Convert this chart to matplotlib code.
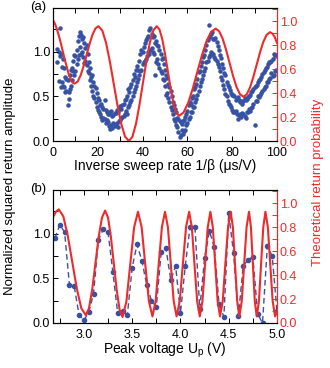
import matplotlib.pyplot as plt
from matplotlib.ticker import MultipleLocator

plt.rcParams['font.family'] = ['Liberation Sans', 'DejaVu Sans']

BLUE = '#3752a3'
RED = '#ee2a2a'

# (a) measured return amplitude vs inverse sweep rate, four repeated sweeps
SWEEP_INT = [2, 3, 4, 5, 6, 7, 8, 9, 10, 11, 12, 13, 14, 15, 16, 17, 18, 19, 20, 21,
             22, 23, 24, 25, 26, 27, 28, 29, 30, 31, 32, 33, 34, 35, 36, 37, 38, 39, 40, 41,
             42, 43, 44, 45, 46, 47, 48, 49, 50, 51, 52, 53, 54, 55, 56, 57, 58, 59, 60, 61,
             62, 63, 64, 65, 66, 67, 68, 69, 70, 71, 72, 73, 74, 75, 76, 77, 78, 79, 80, 81,
             82, 83, 84, 85, 86, 87, 88, 89, 90, 91, 92, 93, 94, 95, 96, 97, 98, 99]
SWEEP_HALF = [2.5, 3.5, 4.5, 5.5, 6.5, 7.5, 8.5, 9.5, 10.5, 11.5, 12.5, 13.5, 14.5, 15.5,
              16.5, 17.5, 18.5, 19.5, 20.5, 21.5, 22.5, 23.5, 24.5, 25.5, 26.5, 27.5, 28.5,
              29.5, 30.5, 31.5, 32.5, 33.5, 34.5, 35.5, 36.5, 37.5, 38.5, 39.5, 40.5, 41.5,
              42.5, 43.5, 44.5, 45.5, 46.5, 47.5, 48.5, 49.5, 50.5, 51.5, 52.5, 53.5, 54.5,
              55.5, 56.5, 57.5, 58.5, 59.5, 60.5, 61.5, 62.5, 63.5, 64.5, 65.5, 66.5, 67.5,
              68.5, 69.5, 70.5, 71.5, 72.5, 73.5, 74.5, 75.5, 76.5, 77.5, 78.5, 79.5, 80.5,
              81.5, 82.5, 83.5, 84.5, 85.5, 86.5, 87.5, 88.5, 89.5, 90.5, 91.5, 92.5, 93.5,
              94.5, 95.5, 96.5, 97.5, 98.5, 99.5]
RUN1 = [1.03, 1.27, 0.83, 0.82, 0.56, 0.47, 0.80, 0.78, 0.79, 1.12,
        1.05, 1.14, 0.87, 1.08, 0.76, 0.72, 0.50, 0.59, 0.35, 0.40,
        0.23, 0.46, 0.23, 0.17, 0.34, 0.20, 0.31, 0.16, 0.39, 0.27,
        0.46, 0.30, 0.55, 0.46, 0.75, 0.62, 0.80, 0.97, 0.86, 1.10,
        0.95, 1.24, 1.04, 1.18, 0.88, 1.07, 0.79, 0.93, 0.62, 0.71,
        0.44, 0.50, 0.25, 0.32, 0.10, 0.21, 0.08, 0.27, 0.20, 0.44,
        0.33, 0.58, 0.47, 0.77, 0.66, 0.94, 0.82, 1.13, 0.96, 1.22,
        0.94, 1.11, 0.83, 0.93, 0.63, 0.74, 0.45, 0.57, 0.35, 0.50,
        0.30, 0.46, 0.27, 0.45, 0.26, 0.49, 0.34, 0.56, 0.18, 0.63,
        0.49, 0.72, 0.58, 0.82, 0.66, 0.89, 0.73, 0.95]
RUN2 = [0.88, 0.95, 0.66, 0.60, 0.70, 0.55, 0.62, 0.90, 0.95, 0.92,
        1.22, 1.00, 1.10, 0.85, 0.88, 0.62, 0.66, 0.44, 0.48, 0.30,
        0.38, 0.25, 0.32, 0.30, 0.18, 0.29, 0.19, 0.33, 0.24, 0.40,
        0.30, 0.50, 0.40, 0.64, 0.55, 0.80, 0.70, 0.78, 1.00, 0.90,
        1.15, 0.98, 1.20, 0.98, 1.12, 0.86, 0.98, 0.70, 0.80, 0.54,
        0.60, 0.35, 0.40, 0.18, 0.25, 0.07, 0.22, 0.12, 0.34, 0.27,
        0.48, 0.38, 0.64, 0.56, 0.84, 0.74, 1.02, 0.90, 1.16, 0.98,
        1.14, 0.90, 1.02, 0.72, 0.82, 0.53, 0.63, 0.40, 0.52, 0.33,
        0.48, 0.29, 0.45, 0.30, 0.46, 0.32, 0.52, 0.38, 0.60, 0.45,
        0.68, 0.54, 0.77, 0.62, 0.86, 0.71, 0.92, 0.78]
RUN3 = [0.67, 0.98, 0.62, 0.72, 0.40, 0.58, 0.68, 0.96, 0.86, 1.18,
        0.98, 1.16, 0.90, 0.98, 0.68, 0.56, 0.62, 0.38, 0.46, 0.27,
        0.36, 0.20, 0.30, 0.14, 0.28, 0.17, 0.35, 0.22, 0.36, 0.28,
        0.34, 0.58, 0.44, 0.68, 0.58, 0.84, 0.74, 1.02, 0.88, 1.13,
        1.00, 1.27, 1.00, 0.74, 1.08, 0.82, 0.92, 0.68, 0.52, 0.64,
        0.38, 0.30, 0.22, 0.26, 0.05, 0.12, 0.24, 0.30, 0.40, 0.42,
        0.50, 0.44, 0.70, 0.62, 0.88, 0.78, 1.08, 1.30, 1.00, 1.14,
        0.92, 1.06, 0.78, 0.86, 0.58, 0.66, 0.42, 0.54, 0.33, 0.46,
        0.25, 0.44, 0.31, 0.28, 0.47, 0.36, 0.55, 0.42, 0.62, 0.50,
        0.70, 0.56, 0.80, 0.66, 0.88, 0.76, 0.97, 0.80]
RUN4 = [1.00, 0.60, 0.92, 0.55, 0.68, 0.74, 0.82, 0.74, 1.02, 0.96,
        1.19, 0.94, 1.04, 0.78, 0.82, 0.74, 0.48, 0.54, 0.33, 0.42,
        0.26, 0.35, 0.21, 0.33, 0.15, 0.31, 0.20, 0.36, 0.26, 0.42,
        0.47, 0.38, 0.60, 0.50, 0.72, 0.66, 0.90, 0.80, 1.05, 0.92,
        1.18, 1.02, 1.16, 1.10, 0.92, 1.02, 0.76, 0.86, 0.74, 0.48,
        0.56, 0.44, 0.36, 0.16, 0.22, 0.19, 0.11, 0.18, 0.25, 0.32,
        0.38, 0.60, 0.52, 0.78, 0.70, 0.96, 0.88, 0.94, 1.20, 0.98,
        1.15, 0.86, 0.96, 0.68, 0.76, 0.50, 0.60, 0.38, 0.52, 0.34,
        0.49, 0.30, 0.42, 0.48, 0.32, 0.50, 0.37, 0.58, 0.45, 0.66,
        0.52, 0.75, 0.61, 0.83, 0.70, 0.90, 0.74, 0.96]

# (a) theory curve
THEORY_A_X = [0, 1, 2, 3, 4, 5, 6, 7, 8, 9, 9.7, 11.03, 12.35, 13.68, 15.0, 16.33,
              17.65, 18.98, 20.3, 22.0, 23.7, 25.4, 27.1, 28.8, 30.5, 32.2, 33.9,
              35.45, 37.0, 38.55, 40.1, 41.65, 43.2, 44.75, 46.3, 47.54, 48.78, 50.01,
              51.25, 52.49, 53.73, 54.96, 56.2, 58.25, 60.3, 62.35, 64.4, 66.45, 68.5,
              70.55, 72.6, 74.15, 75.7, 77.25, 78.8, 80.35, 81.9, 83.45, 85.0, 86.49,
              87.98, 89.46, 90.95, 92.44, 93.93, 95.41, 96.9, 98.0, 99.0, 100]
THEORY_A_Y = [1.01, 0.975, 0.92, 0.854, 0.78, 0.70, 0.63, 0.56, 0.51, 0.485, 0.48,
              0.498, 0.55, 0.628, 0.72, 0.812, 0.89, 0.942, 0.96, 0.924, 0.82, 0.663,
              0.48, 0.297, 0.14, 0.036, 0.0, 0.036, 0.14, 0.297, 0.48, 0.663, 0.82,
              0.924, 0.96, 0.932, 0.851, 0.728, 0.585, 0.442, 0.32, 0.239, 0.21, 0.238,
              0.317, 0.436, 0.575, 0.714, 0.833, 0.912, 0.94, 0.918, 0.857, 0.764,
              0.655, 0.546, 0.453, 0.392, 0.37, 0.39, 0.449, 0.537, 0.64, 0.743, 0.831,
              0.889, 0.91, 0.898, 0.868, 0.82]

# (b) measured amplitude vs peak voltage
VOLT = [2.70, 2.75, 2.80, 2.85, 2.90, 2.95, 3.00, 3.05, 3.10, 3.15, 3.20, 3.25,
        3.30, 3.35, 3.40, 3.45, 3.50, 3.55, 3.60, 3.65, 3.70, 3.75, 3.80, 3.85,
        3.90, 3.95, 4.00, 4.05, 4.10, 4.15, 4.20, 4.25, 4.30, 4.35, 4.40, 4.45,
        4.50, 4.55, 4.60, 4.65, 4.70, 4.75, 4.80, 4.85, 4.90, 4.95, 5.00]
AMP_B = [0.95, 1.10, 1.02, 0.43, 0.41, 0.09, 0.03, 0.12, 0.33, 0.93, 1.05, 1.02,
         0.57, 0.11, 0.13, 0.09, 0.62, 0.88, 0.70, 0.43, 0.25, 0.18, 0.79, 0.835,
         0.48, 0.64, 0.11, 0.64, 1.08, 1.08, 0.16, 0.73, 1.03, 0.85, 0.21, 0.07,
         1.23, 0.78, 0.08, 0.635, 0.71, 0.74, 0.10, 0.0, 0.86, 0.75, 0.13]

# (b) theory curve
THEORY_B_X = [2.68, 2.71, 2.74, 2.787, 2.833, 2.88, 2.927, 2.973, 3.02, 3.053, 3.087,
              3.12, 3.153, 3.187, 3.22, 3.25, 3.28, 3.31, 3.34, 3.37, 3.40, 3.44, 3.48,
              3.52, 3.56, 3.598, 3.635, 3.673, 3.71, 3.743, 3.775, 3.808, 3.84, 3.87,
              3.90, 3.93, 3.96, 3.993, 4.025, 4.058, 4.09, 4.118, 4.145, 4.173, 4.20,
              4.228, 4.255, 4.283, 4.31, 4.335, 4.36, 4.385, 4.41, 4.438, 4.465, 4.493,
              4.52, 4.543, 4.565, 4.588, 4.61, 4.635, 4.66, 4.685, 4.71, 4.73, 4.75,
              4.77, 4.79, 4.813, 4.835, 4.858, 4.88, 4.905, 4.93, 4.955, 4.98, 5.0]
THEORY_B_Y = [0.885, 0.93, 0.95, 0.891, 0.729, 0.508, 0.286, 0.124, 0.065, 0.124, 0.284,
              0.503, 0.721, 0.881, 0.94, 0.88, 0.718, 0.495, 0.273, 0.11, 0.05, 0.178,
              0.49, 0.80, 0.93,
              0.802, 0.493, 0.183, 0.055, 0.183, 0.493, 0.802, 0.93,
              0.802, 0.493, 0.183, 0.055, 0.183, 0.493, 0.802, 0.93,
              0.802, 0.493, 0.183, 0.055, 0.183, 0.493, 0.802, 0.93,
              0.802, 0.493, 0.183, 0.055, 0.183, 0.493, 0.802, 0.93,
              0.802, 0.493, 0.183, 0.055, 0.183, 0.493, 0.802, 0.93,
              0.802, 0.493, 0.183, 0.055, 0.183, 0.493, 0.802, 0.93,
              0.802, 0.493, 0.183, 0.055, 0.09]


def style_axes(ax, tw, xmajor, xminor):
    for a in (ax, tw):
        for sp in a.spines.values():
            sp.set_linewidth(0.8)
    ax.xaxis.set_major_locator(MultipleLocator(xmajor))
    ax.xaxis.set_minor_locator(MultipleLocator(xminor))
    ax.yaxis.set_major_locator(MultipleLocator(0.5))
    ax.yaxis.set_minor_locator(MultipleLocator(0.25))
    ax.set_ylim(0, 1.49)
    ax.tick_params(which='both', direction='in', top=True, right=False,
                   labelsize=9, width=0.7, length=3.5, pad=2)
    ax.tick_params(axis='x', which='both', pad=4)
    ax.yaxis.set_major_formatter(plt.FormatStrFormatter('%.1f'))

    tw.set_ylim(0, 1.112)
    tw.yaxis.set_major_locator(MultipleLocator(0.2))
    tw.yaxis.set_minor_locator(MultipleLocator(0.1))
    tw.yaxis.set_major_formatter(plt.FormatStrFormatter('%.1f'))
    tw.tick_params(which='both', direction='in', colors=RED, labelsize=9,
                   width=0.7, length=3.5, pad=2)
    tw.spines['right'].set_color(RED)


fig = plt.figure(figsize=(3.3, 3.68), dpi=100)
ax_a = fig.add_axes([0.1606, 0.6168, 0.6788, 0.3614])
ax_b = fig.add_axes([0.1606, 0.1223, 0.6788, 0.3614])
tw_a = ax_a.twinx()
tw_b = ax_b.twinx()

for xs, ys in [(SWEEP_INT, RUN1), (SWEEP_INT, RUN2), (SWEEP_HALF, RUN3), (SWEEP_HALF, RUN4)]:
    ax_a.scatter(xs, ys, s=10.5, color=BLUE, linewidths=0)
tw_a.plot(THEORY_A_X, THEORY_A_Y, color=RED, linewidth=1.5)
ax_a.set_xlim(0, 100)
style_axes(ax_a, tw_a, 20, 10)
ax_a.set_xlabel('Inverse sweep rate 1/β (μs/V)', fontsize=10, labelpad=0)

ax_b.plot(VOLT, AMP_B, color=BLUE, linestyle=(0, (4, 2.5)), linewidth=1.0,
          marker='o', markersize=3, clip_on=True)
tw_b.plot(THEORY_B_X, THEORY_B_Y, color=RED, linewidth=1.5)
ax_b.set_xlim(2.68, 5.0)
style_axes(ax_b, tw_b, 0.5, 0.25)
ax_b.set_xlabel(r'Peak voltage U$_\mathregular{p}$ (V)', fontsize=10, labelpad=0)

fig.text(0.09, 0.997, '(a)', fontsize=9.5, va='top', ha='left')
fig.text(0.09, 0.503, '(b)', fontsize=9.5, va='top', ha='left')
fig.text(0.03, 0.495, 'Normalized squared return amplitude', rotation=90,
         fontsize=9.5, va='center', ha='center')
fig.text(0.965, 0.505, 'Theoretical return probability', rotation=90,
         fontsize=9.5, va='center', ha='center', color=RED)

fig.savefig('out.png', dpi=100)
